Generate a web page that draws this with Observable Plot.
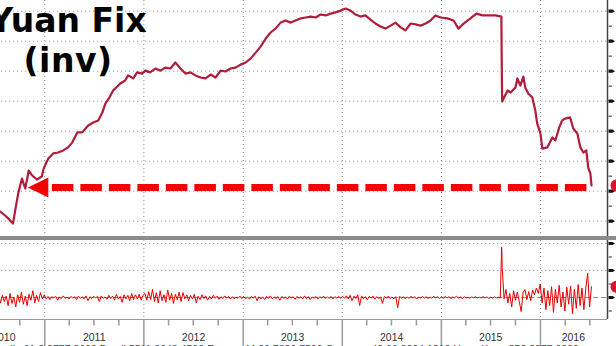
<!DOCTYPE html>
<html><head><meta charset="utf-8">
<script src="https://cdn.jsdelivr.net/npm/d3@7"></script>
<script src="https://cdn.jsdelivr.net/npm/@observablehq/plot@0.6"></script>
<style>
html,body{margin:0;padding:0;background:#fff;overflow:hidden;}
#wrap{position:relative;width:616px;height:346px;overflow:hidden;background:#fff;}
#upper{position:absolute;left:-60px;top:0;width:700px;}
#lower{position:absolute;left:-60px;top:240px;width:700px;}
#upper svg,#lower svg{max-width:none !important;display:block;}
#sep{position:absolute;left:0;top:236px;width:616px;height:3.5px;background:#8c8c8c;}
.title{position:absolute;left:-32px;width:200px;text-align:center;font:bold 33px "DejaVu Sans",Verdana,sans-serif;line-height:33px;color:#000;white-space:nowrap;}
#footer{position:absolute;left:-20px;top:343px;font:10.5px "Liberation Sans",Arial,sans-serif;line-height:12px;color:#444;white-space:nowrap;}
</style></head>
<body>
<div id="wrap">
  <div id="upper"></div>
  <div id="sep"></div>
  <div id="lower"></div>
  <div class="title" style="top:4px">Yuan Fix</div>
  <div class="title" style="top:44px;letter-spacing:0.5px">(inv)</div>
  <div id="footer">Australia 61 2 9777 8600 Brazil 5511 3048 4500 Europe 44 20 7330 7500 Germany 49 69 9204 1210 Hong Kong 852 2977 6000</div>
</div>
<script>
// ---------- data ----------
const upperDates = [
"2010-07-03","2010-07-21","2010-08-08","2010-08-23","2010-09-06","2010-09-14","2010-09-25","2010-10-09","2010-10-21","2010-11-03",
"2010-11-16","2010-12-03","2010-12-21","2010-12-28","2011-01-14","2011-02-01","2011-02-19","2011-03-10","2011-03-28","2011-04-12",
"2011-05-01","2011-05-19","2011-06-10","2011-06-29","2011-07-17","2011-08-01","2011-08-12","2011-08-27","2011-09-10","2011-09-25",
"2011-10-06","2011-10-24","2011-11-04","2011-11-23","2011-12-07","2011-12-26","2012-01-06","2012-01-24","2012-02-12","2012-03-02",
"2012-03-20","2012-04-08","2012-04-26","2012-05-15","2012-06-02","2012-06-21","2012-07-09","2012-07-28","2012-08-15","2012-09-03",
"2012-09-21","2012-10-10","2012-10-28","2012-11-15","2012-12-04","2012-12-22","2013-01-10","2013-01-28","2013-02-16","2013-03-06",
"2013-03-25","2013-04-12","2013-04-30","2013-05-19","2013-06-06","2013-06-25","2013-07-13","2013-07-31","2013-08-19","2013-09-07",
"2013-09-25","2013-10-13","2013-11-01","2013-11-19","2013-12-07","2013-12-26","2014-01-13","2014-01-31","2014-02-19","2014-03-09",
"2014-03-27","2014-04-15","2014-05-03","2014-05-22","2014-06-09","2014-06-28","2014-07-16","2014-08-04","2014-08-22","2014-09-10",
"2014-09-28","2014-10-16","2014-11-04","2014-11-22","2014-12-10","2014-12-29","2015-01-23","2015-02-15","2015-03-05","2015-03-24",
"2015-04-18","2015-05-10","2015-06-02","2015-06-24","2015-07-19","2015-08-10","2015-08-11","2015-08-12","2015-08-13","2015-08-18",
"2015-09-02","2015-09-13","2015-10-01","2015-10-08","2015-10-19","2015-10-30","2015-11-06","2015-11-17","2015-12-02","2015-12-13",
"2015-12-20","2016-01-01","2016-01-08","2016-01-26","2016-02-14","2016-02-25","2016-03-10","2016-03-21","2016-04-01","2016-04-19",
"2016-05-01","2016-05-16","2016-05-27","2016-06-07","2016-06-18","2016-06-25","2016-07-03","2016-07-07"];
const upperValues = [
6.758,6.768,6.781,6.794,6.808,6.764,6.708,6.658,6.691,6.631,
6.648,6.661,6.651,6.624,6.591,6.574,6.571,6.564,6.554,6.538,
6.504,6.504,6.481,6.471,6.464,6.438,6.408,6.388,6.364,6.351,
6.341,6.331,6.314,6.324,6.304,6.308,6.298,6.304,6.291,6.298,
6.288,6.291,6.271,6.291,6.308,6.304,6.314,6.321,6.324,6.311,
6.321,6.298,6.301,6.291,6.288,6.278,6.271,6.258,6.238,6.218,
6.191,6.171,6.158,6.138,6.131,6.138,6.131,6.124,6.121,6.118,
6.121,6.111,6.114,6.108,6.104,6.098,6.091,6.098,6.111,6.118,
6.114,6.128,6.141,6.151,6.158,6.148,6.138,6.154,6.164,6.141,
6.144,6.148,6.141,6.131,6.114,6.121,6.124,6.131,6.158,6.141,
6.124,6.108,6.114,6.114,6.114,6.118,6.230,6.331,6.401,6.391,
6.364,6.371,6.354,6.324,6.348,6.318,6.354,6.374,6.388,6.431,
6.474,6.508,6.558,6.554,6.521,6.531,6.488,6.464,6.458,6.454,
6.491,6.508,6.554,6.571,6.564,6.621,6.641,6.681];

// lower panel: weekly daily-change readings (%) starting 2010-07-01
const lowerStart = "2010-07-01";
const lower2010 = [0.10,-0.05,0.12,-0.20,0.08,-0.15,0.05,-0.30,0.15,-0.22,0.02,-0.35,0.10,-0.18,0.20,-0.25,0.05,-0.30,0.12,-0.10,0.25,-0.20,0.08,-0.15,0.18,-0.05,0.10];
const lower2011 = [-0.05,0.04,-0.08,0.03,-0.02,0.05,-0.10,0.02,-0.04,0.06,-0.03,0.01,-0.06,0.04,-0.02,0.03,-0.08,0.05,-0.03,0.02,-0.05,0.06,-0.12,0.03,-0.04,0.05,-0.02,0.04,-0.15,0.06,-0.03,0.02,-0.07,0.08,-0.04,0.05,-0.10,0.12,-0.06,0.04,-0.18,0.10,-0.05,0.08,-0.12,0.15,-0.08,0.10,-0.05,0.12,-0.10,0.08];
const lower2012 = [0.15,-0.10,0.22,-0.08,0.30,-0.15,0.18,-0.20,0.25,-0.12,0.10,-0.18,0.28,-0.10,0.15,-0.22,0.12,-0.08,0.20,-0.15,0.18,-0.05,0.10,-0.12,0.08,-0.06,0.12,-0.20,0.05,-0.08,0.10,-0.04,0.06,-0.10,0.04,-0.05,0.08,-0.03,0.05,-0.07,0.03,-0.04,0.06,-0.02,0.04,-0.06,0.03,-0.05,0.02,-0.03,0.05,-0.04];
const lower2013 = [0.03,-0.04,0.02,-0.06,0.04,-0.03,0.05,-0.12,0.03,-0.05,0.02,-0.08,0.04,-0.03,0.06,-0.05,0.02,-0.04,0.03,-0.10,0.04,-0.03,0.02,-0.06,0.05,-0.02,0.03,-0.07,0.04,-0.03,0.02,-0.05,0.06,-0.04,0.03,-0.08,0.02,-0.03,0.04,-0.06,0.03,-0.02,0.05,-0.04,0.02,-0.03,0.04,-0.05,0.03,-0.02,0.04,-0.03];
const lower2014 = [0.04,-0.03,0.06,-0.05,0.08,-0.12,0.05,-0.04,0.10,-0.30,0.06,-0.05,0.03,-0.08,0.04,-0.02,0.05,-0.06,0.03,-0.04,0.02,-0.22,0.04,-0.03,0.05,-0.04,0.02,-0.05,0.03,-0.38,0.04,-0.02,0.03,-0.05,0.02,-0.03,0.04,-0.02,0.03,-0.06,0.02,-0.03,0.04,-0.02,0.03,-0.04,0.02,-0.03,0.05,-0.02,0.03,-0.04];
const lower2015 = [0.02,-0.03,0.04,-0.02,0.03,-0.04,0.02,-0.01,0.05,-0.03,0.02,-0.04,0.03,-0.02,0.01,-0.03,0.02,-0.01,0.03,-0.02,0.01,-0.02,0.03,-0.01,0.02,-0.03,0.01,-0.02,0.02,-0.01,0.01,-0.02,1.11,-0.05,0.30,-0.20,0.15,-0.35,0.25,-0.10,0.20,-0.15,-0.52,0.18,0.30,-0.08,0.22,-0.12,0.28,0.10,0.35,0.15,0.50];
const lower2016 = [-0.20,0.35,-0.45,0.25,-0.30,0.40,-0.55,0.30,-0.20,0.45,-0.35,0.20,-0.50,0.38,-0.25,0.42,-0.60,0.30,-0.40,0.48,-0.30,0.35,-0.45,0.35,0.90,-0.35,0.40];
const lowerEventDates = ["2015-08-11","2015-08-12"];
const lowerEventValues = [1.86, 1.62];

// axes / annotation values
const xDomain = ["2010-01-01","2016-09-04"];
const yearStarts = ["2011-01-01","2012-01-01","2013-01-01","2014-01-01","2015-01-01","2016-01-01"];
const yearLabels = ["2010","2011","2012","2013","2014","2015","2016"];
const yearLabelDates = ["2010-08-03","2011-07-02","2012-07-02","2013-07-02","2014-07-02","2015-07-02","2016-05-01"];
const upperDomain = [6.0643, 6.851];
const upperMajor = [6.1,6.2,6.3,6.4,6.5,6.6,6.7,6.8];
const upperMinor = [6.15,6.25,6.35,6.45,6.55,6.65,6.75];
const lowerDomain = [-0.815, 2.111];
const lowerGrid = [1, 2];
const lowerMajor = [0, 1, 2];
const lowerMinor = [-0.5, 0.5, 1.5];
const arrowLevel = 6.688;
const arrowHeadDate = "2011-01-14";
const arrowTailDates = ["2011-01-29", "2016-07-01"];

// ---------- build ----------
const D = s => new Date(s + "T00:00:00Z");
const upper = upperDates.map((d, i) => ({date: D(d), value: upperValues[i]}));
const weekly = [].concat(lower2010, lower2011, lower2012, lower2013, lower2014, lower2015, lower2016);
const lower = weekly.map((v, i) => ({date: d3.utcDay.offset(D(lowerStart), 7 * i), value: v}));
lowerEventDates.forEach((d, i) => lower.push({date: D(d), value: lowerEventValues[i]}));
lower.sort((a, b) => a.date - b.date);
const xEnd = D(xDomain[1]);
const years = yearStarts.map(D);
const quarters = d3.utcMonth.every(3).range(D("2010-04-01"), D("2016-08-01")).filter(d => d.getUTCMonth() !== 0);
const labels = yearLabels.map((t, i) => ({t, date: D(yearLabelDates[i])}));

const sym = fn => ({draw: fn});
const headSym = sym(c => { c.moveTo(-20.5, 0); c.lineTo(0, -10); c.lineTo(0, 10); c.closePath(); });
const majorTick = sym(c => { c.moveTo(0, -1.6); c.lineTo(4, -1.6); c.lineTo(6.5, 0); c.lineTo(4, 1.6); c.lineTo(0, 1.6); c.closePath(); });
const minorTick = sym(c => { c.moveTo(0, 0); c.lineTo(3.5, 0); });
const vTick = len => sym(c => { c.moveTo(0, 0); c.lineTo(0, len); });

const grid = {stroke: "#8f8f8f", strokeWidth: 1, strokeDasharray: "1,3"};
const common = {
  width: 700, marginLeft: 5.2, marginRight: 33,
  x: {type: "utc", domain: xDomain.map(D), axis: null},
  style: {background: "transparent", overflow: "visible", fontFamily: "'Liberation Sans', Arial, sans-serif"}
};

const up = Plot.plot({
  ...common,
  height: 236, marginTop: 0, marginBottom: 0,
  y: {domain: upperDomain, reverse: true, axis: null},
  marks: [
    Plot.ruleY(upperMajor, grid),
    Plot.ruleX(years, grid),
    Plot.ruleX([xEnd], {stroke: "#444", strokeWidth: 1.5}),
    Plot.dot(upperMajor, {x: () => xEnd, y: d => d, symbol: majorTick, fill: "#111", stroke: "none", dx: 1}),
    Plot.dot(upperMinor, {x: () => xEnd, y: d => d, symbol: minorTick, fill: "none", stroke: "#777", dx: 1}),
    Plot.line(upper, {x: "date", y: "value", stroke: "#b01c3a", strokeWidth: 2.2, strokeLinejoin: "round"}),
    Plot.ruleY([arrowLevel], {x1: () => D(arrowTailDates[0]), x2: () => D(arrowTailDates[1]), stroke: "#f40000", strokeWidth: 7, strokeDasharray: "21.5,7"}),
    Plot.dot([arrowLevel], {x: () => D(arrowHeadDate), y: d => d, symbol: headSym, fill: "#f40000", stroke: "none"}),
    Plot.dot([upper[upper.length - 1]], {x: () => xEnd, y: "value", r: 6, fill: "#e0102a", stroke: "none", dx: 9})
  ]
});
document.getElementById("upper").append(up);

const lo = Plot.plot({
  ...common,
  height: 106, marginTop: 0, marginBottom: 27,
  y: {domain: lowerDomain, axis: null},
  marks: [
    Plot.ruleY(lowerGrid, grid),
    Plot.ruleX(years, grid),
    Plot.ruleY([0], {stroke: "#8a8a8a", strokeWidth: 1, strokeDasharray: "5,3"}),
    Plot.ruleY([lowerDomain[0]], {stroke: "#9a9a9a", strokeWidth: 1}),
    Plot.ruleX([xEnd], {stroke: "#444", strokeWidth: 1.5}),
    Plot.dot(lowerMajor, {x: () => xEnd, y: d => d, symbol: majorTick, fill: "#111", stroke: "none", dx: 1}),
    Plot.dot(lowerMinor, {x: () => xEnd, y: d => d, symbol: minorTick, fill: "none", stroke: "#777", dx: 1}),
    Plot.dot(years, {x: d => d, y: () => lowerDomain[0], symbol: vTick(27), fill: "none", stroke: "#9a9a9a"}),
    Plot.dot(quarters, {x: d => d, y: () => lowerDomain[0], symbol: vTick(6), fill: "none", stroke: "#9a9a9a"}),
    Plot.line(lower, {x: "date", y: "value", stroke: "#e60000", strokeWidth: 1}),
    Plot.dot([lower[lower.length - 1]], {x: () => xEnd, y: "value", r: 6, fill: "#e0102a", stroke: "none", dx: 9}),
    Plot.text(labels, {x: "date", text: "t", frameAnchor: "bottom", dy: 21.5, fontSize: 10.5, fill: "#333"})
  ]
});
document.getElementById("lower").append(lo);
</script>
</body></html>
